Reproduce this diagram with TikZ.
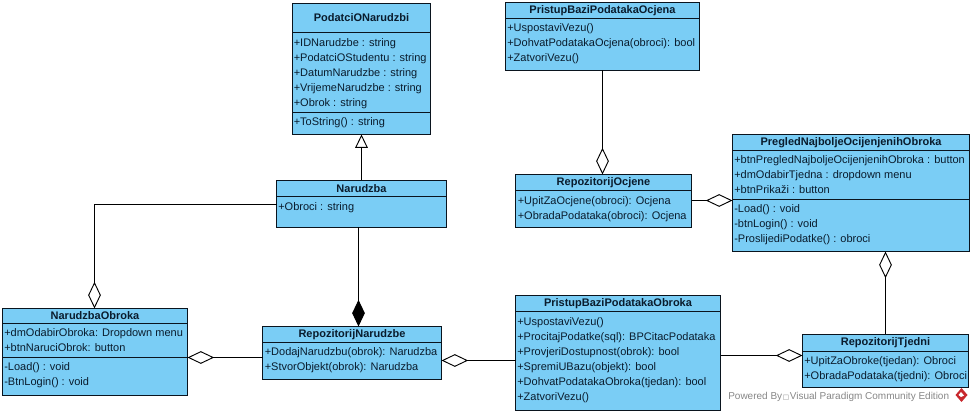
\documentclass[tikz,border=0pt]{standalone}
\usepackage{fontspec}
\setmainfont{Liberation Sans}
\newfontfamily\symfont{DejaVu Sans}
\usetikzlibrary{arrows.meta}
\definecolor{umlblue}{RGB}{122,205,245}
\definecolor{umlline}{RGB}{10,20,30}
\definecolor{umltext}{RGB}{10,28,45}
\definecolor{wmgray}{RGB}{135,135,135}
\definecolor{vpred}{RGB}{200,40,45}
\tikzset{
  px/.style={x=0.75pt,y=-0.75pt},
  clsbox/.style={draw=umlline,fill=umlblue,line width=0.8pt,inner sep=0pt,outer sep=0pt,rectangle},
  clstitle/.style={font=\fontsize{8.25}{11.25}\selectfont\bfseries,text=umltext,inner sep=0pt,anchor=center},
  clsmember/.style={font=\fontsize{8.25}{11.25}\selectfont,text=umltext,inner sep=0pt,align=left,anchor=base west},
  conn/.style={draw=black,line width=0.8pt},
  aggr/.style={conn,{Diamond[fill=white,length=20pt,width=9.5pt,line width=0.7pt]}-},
  comp/.style={conn,{Diamond[fill=black,length=20pt,width=9.5pt]}-},
  gen/.style={conn,{Triangle[fill=white,length=10pt,width=9.5pt,line width=0.7pt]}-},
}
% name, left, top, right, bottom, header bottom, title
\newcommand\umlbox[7]{%
  \pgfmathsetmacro\bw{(#4-#2)*0.75}%
  \pgfmathsetmacro\bh{(#5-#3)*0.75}%
  \pgfmathsetmacro\bx{(#2+#4)/2}%
  \pgfmathsetmacro\by{(#3+#5)/2}%
  \node[clsbox,minimum width=\bw pt,minimum height=\bh pt] (#1) at (\bx,\by) {};
  \draw[conn,draw=umlline] (#1.west |- 0,#6) -- (#1.east |- 0,#6);
  \pgfmathsetmacro\tcy{(#3+#6)/2}%
  \node[clstitle] (#1-title) at (\bx,\tcy) {#7};
}
\newcommand\umlsep[2]{\draw[conn,draw=umlline] (#1.west |- 0,#2) -- (#1.east |- 0,#2);}
% node name, x, baseline y of the last line, lines
\newcommand\umlmem[4]{\node[clsmember] (#1) at (#2,#3) {#4};}
\begin{document}
\begin{tikzpicture}[px]
\useasboundingbox (0,0) rectangle (972,413);
\fill[white] (0,0) rectangle (972,413);

\umlbox{pon}{292.5}{3.5}{430.5}{134.5}{32.5}{PodatciONarudzbi}
\umlsep{pon}{112.5}
\umlmem{pon-a}{293.5}{106.5}{+IDNarudzbe : string\\+PodatciOStudentu : string\\+DatumNarudzbe : string\\+VrijemeNarudzbe : string\\+Obrok : string}
\umlmem{pon-m}{293.5}{125.5}{+ToString() : string}

\umlbox{nar}{276.5}{180.5}{446.5}{227.5}{196.5}{Narudzba}
\umlmem{nar-a}{278}{210.5}{+Obroci : string}

\umlbox{nob}{2.5}{308.5}{187.5}{395.5}{323.5}{NarudzbaObroka}
\umlsep{nob}{357.5}
\umlmem{nob-a}{4}{352}{+dmOdabirObroka: Dropdown menu\\+btnNaruciObrok: button}
\umlmem{nob-m}{4}{386}{-Load() : void\\-BtnLogin() : void}

\umlbox{rna}{262.5}{326.5}{441.5}{379.5}{342.5}{RepozitorijNarudzbe}
\umlmem{rna-a}{264.5}{370.5}{+DodajNarudzbu(obrok): Narudzba\\+StvorObjekt(obrok): Narudzba}

\umlbox{pbo}{515.5}{295.5}{720.5}{410.5}{311.5}{PristupBaziPodatakaObroka}
\umlmem{pbo-a}{517}{400.5}{+UspostaviVezu()\\+ProcitajPodatke(sql): BPCitacPodataka\\+ProvjeriDostupnost(obrok): bool\\+SpremiUBazu(objekt): bool\\+DohvatPodatakaObroka(tjedan): bool\\+ZatvoriVezu()}

\umlbox{rtj}{802.5}{334.5}{968.5}{387.5}{351.5}{RepozitorijTjedni}
\umlmem{rtj-a}{804}{379.5}{+UpitZaObroke(tjedan): Obroci\\+ObradaPodataka(tjedni): Obroci}

\umlbox{roc}{515.5}{174.5}{691.5}{227.5}{190.5}{RepozitorijOcjene}
\umlmem{roc-a}{517.5}{219.5}{+UpitZaOcjene(obroci): Ocjena\\+ObradaPodataka(obroci): Ocjena}

\umlbox{pre}{732.5}{134.5}{969.5}{251.5}{150.5}{PregledNajboljeOcijenjenihObroka}
\umlsep{pre}{199.5}
\umlmem{pre-a}{734}{194}{+btnPregledNajboljeOcijenjenihObroka : button\\+dmOdabirTjedna : dropdown menu\\+btnPrikaži : button}
\umlmem{pre-m}{734}{243}{-Load() : void\\-btnLogin() : void\\-ProslijediPodatke() : obroci}

\umlbox{pbc}{505.5}{2.5}{699.5}{70.5}{18.5}{PristupBaziPodatakaOcjena}
\umlmem{pbc-a}{507}{62}{+UspostaviVezu()\\+DohvatPodatakaOcjena(obroci): bool\\+ZatvoriVezu()}

% connectors
\draw[gen] (pon.south) -- (nar.north);
\draw[comp] (358.5,0 |- rna.north) -- (358.5,0 |- nar.south);
\draw[aggr] (94.5,0 |- nob.north) -- (94.5,204.5) -- (nar.west |- 0,204.5);
\draw[aggr] (nob.east |- 0,357.5) -- (rna.west |- 0,357.5);
\draw[aggr] (rna.east |- 0,360.5) -- (pbo.west |- 0,360.5);
\draw[aggr] (rtj.west |- 0,355.5) -- (pbo.east |- 0,355.5);
\draw[aggr] (602.5,0 |- roc.north) -- (602.5,0 |- pbc.south);
\draw[aggr] (pre.west |- 0,200.5) -- (roc.east |- 0,200.5);
\draw[aggr] (885.5,0 |- pre.south) -- (885.5,0 |- rtj.north);

% watermark
\node[font=\fontsize{7.5}{10}\selectfont,text=wmgray,inner sep=0pt,anchor=base west] (wm) at (728,399.5) {Powered By\hspace{0.5pt}{\symfont\fontsize{5}{6}\selectfont □}\hspace{0.5pt}Visual Paradigm Community Edition};
\fill[vpred] (961.5,388) -- (967.5,395) -- (961.5,402) -- (955.5,395) -- cycle;
\fill[white] (961,392) -- (964,395.5) -- (961,397) -- (958.5,395) -- cycle;
\end{tikzpicture}
\end{document}
